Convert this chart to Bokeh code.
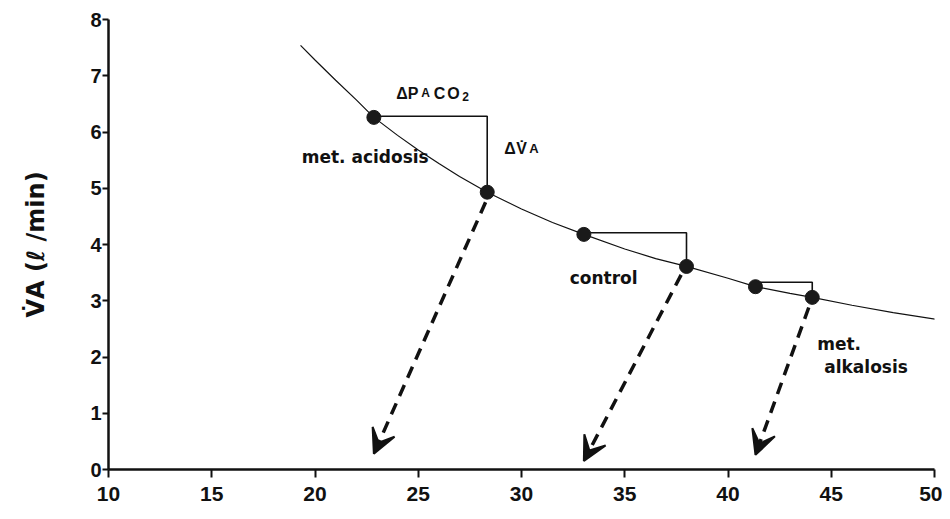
from bokeh.plotting import figure
from bokeh.models import Arrow, VeeHead, ColumnDataSource, FixedTicker, Range1d
from bokeh.core.properties import value
from bokeh.embed import file_html
from bokeh.resources import INLINE

# ---- data ----
x_ticks = [10, 15, 20, 25, 30, 35, 40, 45, 50]
y_ticks = [0, 1, 2, 3, 4, 5, 6, 7, 8]

# iso-CO2 production curve (PaCO2 vs alveolar ventilation)
curve_paco2 = [19.3, 20, 21, 22, 22.85, 24, 25, 26, 27, 28.34, 30, 31.5, 33.02,
               35, 36.5, 37.99, 40, 41.33, 43, 44.08, 46, 48, 50.05]
curve_va = [7.54, 7.28, 6.92, 6.57, 6.26, 5.94, 5.68, 5.44, 5.21, 4.93, 4.63, 4.39, 4.18,
            3.92, 3.75, 3.61, 3.40, 3.25, 3.13, 3.06, 2.92, 2.79, 2.67]

states = ["met. acidosis", "control", "met. alkalosis"]
start_paco2 = [22.85, 33.02, 41.33]
start_va = [6.26, 4.18, 3.25]
end_paco2 = [28.34, 37.99, 44.08]
end_va = [4.93, 3.61, 3.06]
bracket_top = [6.28, 4.21, 3.33]

arrow_from_x = [28.26, 37.73, 43.91]
arrow_from_y = [4.75, 3.46, 2.88]
arrow_to_x = [22.85, 33.02, 41.33]
arrow_to_y = [0.28, 0.15, 0.26]

# ---- figure ----
p = figure(width=942, height=511, x_range=Range1d(10, 50), y_range=Range1d(0, 8),
           output_backend="svg", toolbar_location=None,
           min_border_left=108, min_border_right=8, min_border_top=19, min_border_bottom=42)
p.grid.visible = False
p.outline_line_color = None
p.background_fill_color = "white"

for ax in (p.xaxis[0], p.yaxis[0]):
    ax.axis_line_width = 2.5
    ax.axis_line_color = "#111111"
    ax.major_tick_line_width = 2
    ax.major_tick_line_color = "#111111"
    ax.major_tick_in = 0
    ax.minor_tick_line_color = None
    ax.major_label_text_color = "#111111"

p.xaxis.ticker = FixedTicker(ticks=x_ticks)
p.yaxis.ticker = FixedTicker(ticks=y_ticks)
p.xaxis.major_tick_out = 8
p.yaxis.major_tick_out = 6
p.xaxis.major_label_text_font = "Liberation Sans"
p.xaxis.major_label_text_font_style = "bold"
p.xaxis.major_label_text_font_size = "21px"
p.xaxis.major_label_standoff = 9
p.yaxis.major_label_text_font = "Liberation Sans"
p.yaxis.major_label_text_font_style = "bold"
p.yaxis.major_label_text_font_size = "20px"
p.yaxis.major_label_standoff = 1

p.yaxis.axis_label = "V\u0307A (\u2113 /min)"
p.yaxis.axis_label_text_font = "DejaVu Sans"
p.yaxis.axis_label_text_font_style = "bold"
p.yaxis.axis_label_text_font_size = "24px"
p.yaxis.axis_label_text_color = "#111111"
p.yaxis.axis_label_standoff = 37

# curve
p.line(curve_paco2, curve_va, line_color="#111111", line_width=1.2)

# brackets
br = ColumnDataSource(dict(
    xs=[[a, b, b] for a, b in zip(start_paco2, end_paco2)],
    ys=[[t, t, e] for t, e in zip(bracket_top, end_va)],
))
p.multi_line("xs", "ys", source=br, line_color="#111111", line_width=1.6)

# points
p.scatter(start_paco2 + end_paco2, start_va + end_va, size=14,
          fill_color="#1a1a1a", line_color="#1a1a1a")

# dashed arrows
for x0, y0, x1, y1 in zip(arrow_from_x, arrow_from_y, arrow_to_x, arrow_to_y):
    p.add_layout(Arrow(end=VeeHead(size=24, fill_color="#111111", fill_alpha=1.0,
                                   line_color="#111111", line_width=2),
                       x_start=x0, y_start=y0, x_end=x1, y_end=y1,
                       line_width=3.5, line_dash="12 8", line_color="#111111"))

# state labels
p.text(x=[22.43, 33.98], y=[5.56, 3.41], text=[states[0], states[1]],
       text_font=value("DejaVu Sans"), text_font_style="bold", text_font_size="17px",
       text_align="center", text_baseline="middle", text_color="#111111")
p.text(x=[44.32, 44.66], y=[2.23, 1.82], text=["met.", "alkalosis"],
       text_font=value("DejaVu Sans"), text_font_style="bold", text_font_size="17px",
       text_align="left", text_baseline="middle", text_color="#111111")

# delta PACO2 label (pieces)
pco_pieces = ["\u0394", "P", "A", "C", "O", "2"]
pco_dx = [0, 11.7, 25, 37.5, 51, 66]
pco_dy = [0, 0, 0, 0, 0, -3]
pco_size = ["16px", "16px", "12px", "16px", "16px", "12px"]
for t, dx, dy, s in zip(pco_pieces, pco_dx, pco_dy, pco_size):
    p.text(x=[23.93], y=[6.69], text=[t], x_offset=dx, y_offset=-dy,
           text_font=value("Liberation Sans"), text_font_size=s, text_font_style="bold",
           text_align="left", text_baseline="alphabetic", text_color="#111111")

# delta VA label
va_pieces = ["\u0394", "V\u0307", "A"]
va_dx = [0, 12, 25]
va_size = ["16px", "16px", "13px"]
for t, dx, s in zip(va_pieces, va_dx, va_size):
    p.text(x=[29.17], y=[5.70], text=[t], x_offset=dx,
           text_font=value("Liberation Sans"), text_font_size=s, text_font_style="bold",
           text_align="left", text_baseline="alphabetic", text_color="#111111")

open("out.html", "w").write(file_html(p, INLINE))
